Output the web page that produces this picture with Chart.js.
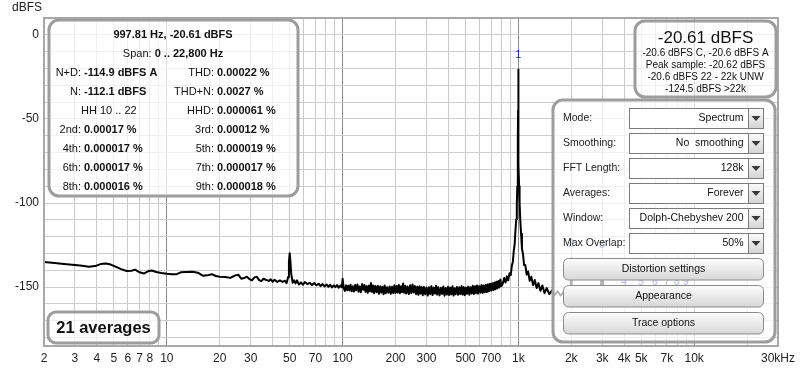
<!DOCTYPE html>
<html><head><meta charset="utf-8">
<script src="https://cdn.jsdelivr.net/npm/chart.js@4.4.1/dist/chart.umd.min.js"></script>
<style>html,body{margin:0;padding:0;background:#fff;}#wrap{width:800px;height:370px;}</style>
</head><body><div id="wrap"><canvas id="c" width="800" height="370"></canvas></div>
<script>
// ---------- DATA ----------
const freqLowHz = [2, 2.3, 2.6, 3, 3.3, 3.6, 3.9, 4.2, 4.5, 4.8,
  5.1, 5.5, 5.9, 6.3, 6.6, 7, 7.4, 7.8, 8.2, 8.7,
  9.3, 10, 10.7, 11.3, 12, 13, 14, 15, 16, 17,
  18, 19, 20, 21.5, 23, 24.5, 25.5, 26.5, 27.5, 28.5,
  29.5, 30.5, 31.5, 32.5, 33.5, 34.5, 35.5, 36.5, 38, 39,
  40, 41, 42.5, 44, 45.5, 47, 48, 49, 49.5, 50,
  50.5, 51, 52, 53, 54, 55, 56.5, 58, 59.5, 61,
  63, 65, 67, 69, 71, 73, 75, 77, 79, 81,
  83, 85, 87, 89, 91, 93, 95, 97, 99];
const dbLow = [-135.0, -135.6, -136.2, -136.8, -137.3, -137.9, -137.5, -136.3, -135.9, -136.6,
  -137.8, -139.3, -140.4, -140.3, -139.6, -141.2, -141.9, -140.6, -140.1, -141.0,
  -141.6, -142.0, -142.3, -142.4, -141.2, -141.0, -140.8, -141.4, -143.2, -143.0,
  -142.3, -143.4, -143.8, -144.0, -144.5, -143.0, -142.6, -145.0, -144.6, -143.8,
  -145.2, -146.0, -144.2, -143.8, -145.8, -146.4, -145.0, -145.6, -146.3, -145.4,
  -146.8, -145.6, -146.9, -146.0, -146.9, -146.2, -147.6, -144.0, -135.0, -129.8,
  -135.0, -142.0, -147.4, -146.0, -147.8, -146.0, -148.4, -147.2, -148.6, -147.0,
  -148.2, -147.4, -148.8, -147.6, -148.9, -148.0, -149.3, -148.2, -149.6, -148.4,
  -149.8, -148.6, -150.2, -148.9, -150.0, -148.8, -150.4, -149.0, -150.1];

const freqMidHz = [100, 101.5, 103, 104.6, 106.2, 107.8, 109.4, 111, 112.7, 114.4,
  116.1, 117.8, 119.6, 121.4, 123.2, 125, 127, 129, 131, 133,
  135, 137, 139, 141, 143, 145, 147, 149, 151, 153.5,
  156, 158.5, 161, 163.5, 166, 168.5, 171, 173.5, 176, 179,
  182, 185, 188, 191, 194, 197, 200, 203, 206, 209,
  212, 215, 218, 221, 224, 227, 230, 234, 238, 242,
  246, 250, 254, 258, 262, 266, 270, 274, 278, 282,
  286, 290, 295, 300, 305, 310, 315, 320, 325, 330,
  335, 340, 345, 350, 356, 362, 368, 374, 380, 386,
  392, 398, 404, 410, 416, 422, 428, 434, 440, 447,
  454, 461, 468, 475, 482, 489, 496, 503, 510, 518,
  526, 534, 542, 550, 558, 566, 574, 582, 590, 599,
  608, 617, 626, 635, 644, 653, 662, 671, 680, 690,
  700, 710, 720, 730, 740, 750, 760, 770, 780, 790,
  800];
const dbMid = [-145.0, -150.6, -152.3, -148.9, -151.8, -149.2, -152.0, -148.6, -152.4, -149.5,
  -152.6, -148.8, -151.9, -148.4, -152.7, -149.6, -153.0, -148.2, -151.6, -148.7,
  -152.8, -149.4, -153.4, -149.1, -152.5, -147.6, -152.9, -149.0, -153.6, -149.3,
  -153.1, -149.2, -154.0, -149.5, -153.3, -149.8, -154.2, -149.0, -153.7, -150.1,
  -153.4, -149.6, -154.0, -149.8, -153.6, -148.9, -153.5, -149.3, -153.2, -148.7,
  -153.6, -149.5, -153.0, -147.8, -153.3, -149.2, -153.8, -149.6, -154.1, -148.9,
  -153.5, -148.4, -153.2, -149.4, -154.2, -149.7, -154.6, -149.5, -153.9, -150.0,
  -154.8, -149.9, -154.3, -150.2, -155.0, -150.1, -154.2, -149.4, -154.7, -150.3,
  -153.9, -149.2, -154.5, -150.0, -154.9, -150.4, -154.1, -149.6, -155.1, -150.5,
  -154.4, -149.8, -154.7, -150.3, -154.3, -149.5, -155.0, -150.6, -154.2, -149.9,
  -154.6, -150.1, -154.1, -149.4, -154.5, -150.0, -154.8, -150.3, -154.0, -149.7,
  -154.5, -150.0, -153.8, -149.2, -154.1, -149.5, -153.6, -149.0, -153.9, -149.4,
  -153.3, -148.8, -153.5, -149.0, -153.1, -148.6, -152.9, -148.3, -152.5, -148.0,
  -152.1, -147.7, -151.8, -147.2, -151.3, -146.8, -150.8, -146.3, -150.2, -145.5,
  -149.4];

const freqPeakHz = [815, 830, 845, 860, 875, 890, 905, 918, 930, 942,
  952, 962, 972, 980, 986, 991, 994.5, 996.5, 997.81, 999,
  1001, 1004.5, 1010, 1016, 1025, 1036, 1048, 1062, 1078, 1095,
  1115, 1137, 1160, 1185, 1212, 1240, 1270, 1300, 1335, 1370,
  1410, 1450, 1500];
const dbPeak = [-148.0, -144.6, -147.2, -143.6, -146.0, -141.8, -142.8, -137.2, -135.0, -128.2,
  -124.8, -116.8, -109.8, -100.0, -90.0, -77.0, -62.0, -45.0, -20.61, -45.0,
  -62.0, -77.0, -90.0, -100.0, -110.0, -118.2, -127.0, -130.2, -137.0, -136.8,
  -142.6, -140.8, -146.2, -143.8, -148.8, -145.8, -150.6, -147.6, -152.2, -149.0,
  -153.6, -150.6, -154.2];

const freqHighHz = [1550, 1610, 1670, 1740, 1810, 1880, 1950, 1985, 1995.6, 2010,
  2060, 2150, 2250, 2350, 2460, 2580, 2700, 2820, 2950, 2993.4,
  3040, 3150, 3300, 3450, 3600, 3800, 4000, 4200, 4450, 4700,
  5000, 5300, 5600, 6000, 6400, 6800, 7200, 7700, 8200, 8700,
  9300, 10000, 10700, 11500, 12400, 13300, 14300, 15400, 16600, 17900,
  19300, 20800, 22000, 22800];
const dbHigh = [-152.0, -154.6, -152.5, -155.0, -152.8, -155.3, -152.6, -150.0, -133.0, -150.5,
  -154.3, -153.1, -155.0, -153.2, -155.4, -153.5, -155.6, -153.4, -151.0, -134.0,
  -151.2, -155.5, -153.3, -155.7, -153.6, -155.9, -153.4, -155.8, -153.9, -156.1,
  -153.7, -156.0, -154.0, -156.3, -154.2, -156.2, -154.0, -156.5, -154.4, -156.3,
  -154.3, -156.6, -154.5, -156.8, -154.7, -157.0, -154.9, -157.1, -155.0, -157.3,
  -155.2, -157.2, -155.5, -157.4];

// harmonic markers
const fundamentalHz = 997.81;
const harmonicNumbers = [1, 2, 3, 4, 5, 6, 7, 8, 9];
const harmonicDb = [-20.61, -133.0, -134.0, -156.0, -156.0, -156.0, -156.0, -156.0, -156.0];

// axes
const xGridHz = [2,3,4,5,6,7,8,9,10,20,30,40,50,60,70,80,90,100,200,300,400,500,600,700,800,900,
  1000,2000,3000,4000,5000,6000,7000,8000,9000,10000,20000,30000];
const xTickText = {2:'2',3:'3',4:'4',5:'5',6:'6',7:'7',8:'8',10:'10',20:'20',30:'30',50:'50',70:'70',
  100:'100',200:'200',300:'300',500:'500',700:'700',1000:'1k',2000:'2k',3000:'3k',4000:'4k',5000:'5k',
  7000:'7k',10000:'10k',30000:'30kHz'};
const yGridDb = [10,0,-10,-20,-30,-40,-50,-60,-70,-80,-90,-100,-110,-120,-130,-140,-150,-160,-170,-180];
const yLabelDb = [0,-50,-100,-150];
const yAxisTitle = 'dBFS';

// overlay texts
const statsTitle = '997.81 Hz, -20.61 dBFS';
const statsSpan = ['Span: ', '0 .. 22,800 Hz'];
const statsRows = [
  [['N+D:', '-114.9 dBFS A'], ['THD:', '0.00022 %']],
  [['N:', '-112.1 dBFS'], ['THD+N:', '0.0027 %']],
  [['HH 10 .. 22', ''], ['HHD:', '0.000061 %']],
  [['2nd:', '0.00017 %'], ['3rd:', '0.00012 %']],
  [['4th:', '0.000017 %'], ['5th:', '0.000019 %']],
  [['6th:', '0.000017 %'], ['7th:', '0.000017 %']],
  [['8th:', '0.000016 %'], ['9th:', '0.000018 %']]
];
const levelMain = '-20.61 dBFS';
const levelLines = ['-20.6 dBFS C, -20.6 dBFS A', 'Peak sample: -20.62 dBFS', '-20.6 dBFS 22 - 22k UNW', '-124.5 dBFS >22k'];
const panelLabels = ['Mode:', 'Smoothing:', 'FFT Length:', 'Averages:', 'Window:', 'Max Overlap:'];
const panelValues = ['Spectrum', 'No  smoothing', '128k', 'Forever', 'Dolph-Chebyshev 200', '50%'];
const panelButtons = ['Distortion settings', 'Appearance', 'Trace options'];
const averagesText = '21 averages';

// ---------- CHART ----------
const FONT = '"Liberation Sans", Arial, sans-serif';
const freqAll = freqLowHz.concat(freqMidHz, freqPeakHz, freqHighHz);
const dbAll = dbLow.concat(dbMid, dbPeak, dbHigh);
const points = freqAll.map((f, i) => ({x: f, y: dbAll[i]}));

function rr(ctx, x, y, w, h, r) {
  ctx.beginPath();
  ctx.moveTo(x + r, y);
  ctx.lineTo(x + w - r, y); ctx.arcTo(x + w, y, x + w, y + r, r);
  ctx.lineTo(x + w, y + h - r); ctx.arcTo(x + w, y + h, x + w - r, y + h, r);
  ctx.lineTo(x + r, y + h); ctx.arcTo(x, y + h, x, y + h - r, r);
  ctx.lineTo(x, y + r); ctx.arcTo(x, y, x + r, y, r);
  ctx.closePath();
}
function panelBox(ctx, x, y, w, h, r) {
  rr(ctx, x, y, w, h, r);
  ctx.fillStyle = 'rgba(255,255,255,0.7)';
  ctx.fill();
  ctx.lineWidth = 3;
  ctx.strokeStyle = '#9d9d9d';
  ctx.stroke();
}
function mixed(ctx, parts, x, y, align, size) {
  let widths = parts.map(p => { ctx.font = (p[1] ? 'bold ' : '') + size + 'px ' + FONT; return ctx.measureText(p[0]).width; });
  let total = widths.reduce((a, b) => a + b, 0);
  let cx = align === 'center' ? x - total / 2 : (align === 'right' ? x - total : x);
  ctx.textAlign = 'left';
  parts.forEach((p, i) => { ctx.font = (p[1] ? 'bold ' : '') + size + 'px ' + FONT; ctx.fillText(p[0], cx, y); cx += widths[i]; });
}

const overlay = {
  id: 'overlay',
  beforeDraw(chart) {
    const c = chart.ctx; c.save(); c.fillStyle = '#fff'; c.fillRect(0, 0, chart.width, chart.height); c.restore();
  },
  afterDraw(chart) {
    const ctx = chart.ctx, a = chart.chartArea, xs = chart.scales.x, ys = chart.scales.y;
    ctx.save();
    ctx.strokeStyle = '#a8a8a8'; ctx.lineWidth = 2;
    ctx.strokeRect(a.left, a.top, a.right - a.left, a.bottom - a.top);
    ctx.fillStyle = '#222'; ctx.font = '12px ' + FONT; ctx.textBaseline = 'middle'; ctx.textAlign = 'left';
    ctx.fillText(yAxisTitle, 12, 8);
    ctx.font = '11px ' + FONT; ctx.fillStyle = '#1f2a7c'; ctx.textAlign = 'center';
    harmonicNumbers.forEach((n, i) => {
      const px = xs.getPixelForValue(fundamentalHz * n), py = ys.getPixelForValue(harmonicDb[i]);
      ctx.fillText(String(n), px, py - 15);
    });

    // stats box
    panelBox(ctx, 49, 20, 249, 176, 10);
    ctx.fillStyle = '#111'; ctx.textBaseline = 'middle';
    mixed(ctx, [[statsTitle, true]], 173, 34.5, 'center', 11);
    mixed(ctx, [[statsSpan[0], false], [statsSpan[1], true]], 173, 53.5, 'center', 11);
    statsRows.forEach((row, i) => {
      const y = 72.5 + i * 19;
      const L = row[0], R = row[1];
      if (L[1] === '') { mixed(ctx, [[L[0], false]], 81, y, 'left', 11); }
      else { mixed(ctx, [[L[0], false]], 81, y, 'right', 11); mixed(ctx, [[L[1], true]], 84, y, 'left', 11); }
      mixed(ctx, [[R[0], false]], 214, y, 'right', 11); mixed(ctx, [[R[1], true]], 217, y, 'left', 11);
    });

    // level box
    panelBox(ctx, 635, 21, 141, 76, 10);
    ctx.fillStyle = '#111'; ctx.textAlign = 'center';
    ctx.font = '17px ' + FONT; ctx.fillText(levelMain, 705.5, 38);
    ctx.font = '10px ' + FONT;
    levelLines.forEach((t, i) => ctx.fillText(t, 705.5, 53.5 + i * 12));

    // control panel
    panelBox(ctx, 553, 100, 222, 242, 10);
    panelLabels.forEach((t, i) => {
      const cy = 118.5 + i * 25;
      ctx.fillStyle = '#222'; ctx.textAlign = 'left'; ctx.font = '10.5px ' + FONT;
      ctx.fillText(t, 563, cy);
      ctx.fillStyle = '#fff'; ctx.fillRect(629.5, cy - 10, 134, 20);
      const g = ctx.createLinearGradient(0, cy - 10, 0, cy + 10);
      g.addColorStop(0, '#fbfbfb'); g.addColorStop(1, '#d4d4d4');
      ctx.fillStyle = g; ctx.fillRect(748.5, cy - 10, 15, 20);
      ctx.strokeStyle = '#7c7c7c'; ctx.lineWidth = 1;
      ctx.strokeRect(629.5, cy - 10, 134, 20);
      ctx.beginPath(); ctx.moveTo(748.5, cy - 10); ctx.lineTo(748.5, cy + 10); ctx.stroke();
      ctx.fillStyle = '#3a3a3a';
      ctx.beginPath(); ctx.moveTo(751.5, cy - 2.5); ctx.lineTo(760.5, cy - 2.5); ctx.lineTo(756, cy + 2.5); ctx.closePath(); ctx.fill();
      ctx.fillStyle = '#111'; ctx.textAlign = 'right'; ctx.font = '10.5px ' + FONT;
      ctx.fillText(panelValues[i], 743.5, cy);
    });
    panelButtons.forEach((t, i) => {
      const y = 258.5 + i * 27;
      rr(ctx, 563.5, y, 200, 21.5, 5);
      const g = ctx.createLinearGradient(0, y, 0, y + 22);
      g.addColorStop(0, '#fdfdfd'); g.addColorStop(1, '#d6d6d6');
      ctx.fillStyle = g; ctx.fill();
      ctx.strokeStyle = '#8a8a8a'; ctx.lineWidth = 1; ctx.stroke();
      ctx.fillStyle = '#111'; ctx.textAlign = 'center'; ctx.font = '10.5px ' + FONT;
      ctx.fillText(t, 663.5, y + 11);
    });

    // averages box
    panelBox(ctx, 48, 312, 111, 31, 8);
    ctx.fillStyle = '#111'; ctx.textAlign = 'center'; ctx.font = 'bold 16.5px ' + FONT;
    ctx.fillText(averagesText, 103.5, 328);
    ctx.restore();
  }
};

new Chart(document.getElementById('c'), {
  type: 'line',
  data: { datasets: [{ data: points, borderColor: '#000', borderWidth: 2, pointRadius: 0, tension: 0, fill: false, borderJoinStyle: 'round' }] },
  options: {
    responsive: false, animation: false, devicePixelRatio: 1,
    layout: { padding: { top: 18, right: 22, left: 0, bottom: 0 } },
    plugins: { legend: { display: false }, tooltip: { enabled: false }, title: { display: false } },
    scales: {
      x: {
        type: 'logarithmic', min: 2, max: 30000,
        afterBuildTicks: s => { s.ticks = xGridHz.map(v => ({ value: v })); },
        afterFit: s => { s.height = 24; },
        ticks: { autoSkip: false, maxRotation: 0, minRotation: 0, padding: 5, color: '#222', font: { family: FONT, size: 12 },
          callback: v => xTickText[v] !== undefined ? xTickText[v] : '' },
        grid: { drawTicks: false, lineWidth: 1,
          color: c => { const v = c.tick ? c.tick.value : 0; const l = Math.log10(v); return Math.abs(l - Math.round(l)) < 1e-9 ? '#8c8c8c' : '#c9c9c9'; } },
        border: { display: false }
      },
      y: {
        type: 'linear', min: -185, max: 10,
        afterBuildTicks: s => { s.ticks = yGridDb.map(v => ({ value: v })); },
        afterFit: s => { s.width = 44; },
        ticks: { autoSkip: false, padding: 5, color: '#222', font: { family: FONT, size: 12 },
          callback: v => yLabelDb.includes(v) ? String(v) : '' },
        grid: { drawTicks: false, color: '#cdcdcd', lineWidth: 1 },
        border: { display: false }
      }
    }
  },
  plugins: [overlay]
});
</script>
</body></html>
